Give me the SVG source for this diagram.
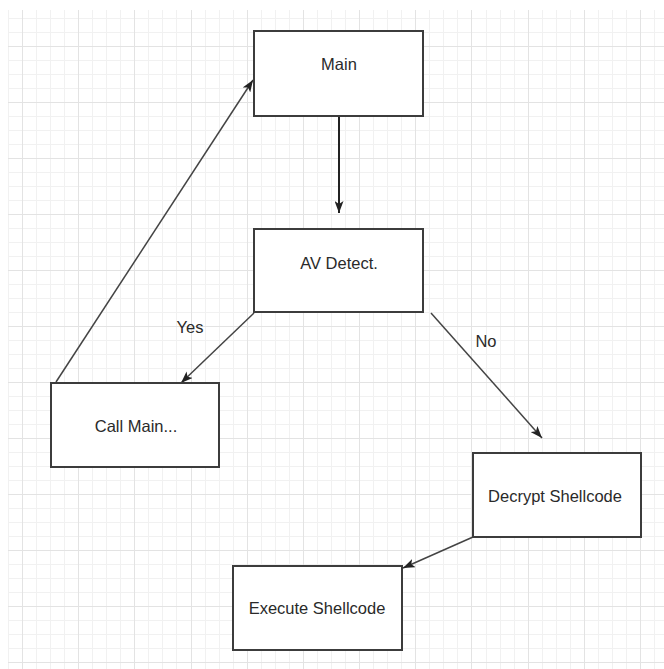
<svg xmlns="http://www.w3.org/2000/svg" width="664" height="669" viewBox="0 0 664 669">
<style>
.minor{stroke:#f1f1f1;stroke-width:1;fill:none}
.major{stroke:#e3e3e3;stroke-width:1;fill:none}
.box{fill:#fff;stroke:#3c3c3c;stroke-width:2}
.t{font-family:"Liberation Sans",Arial,sans-serif;font-size:16.5px;fill:#2a2a2a;text-anchor:middle}
.edge{stroke:#444;stroke-width:1.5;fill:none;marker-end:url(#arr)}
</style>
<defs>
<marker id="arr" markerUnits="userSpaceOnUse" viewBox="0 0 12 9" refX="12" refY="4.5" markerWidth="12" markerHeight="9" orient="auto">
<path d="M0,0 L12,4.5 L0,9 L3,4.5 z" fill="#222"/>
</marker>
</defs>
<rect width="664" height="669" fill="#fff"/>
<g id="grid">
<path class="minor" d="M8.5 10V669M36.5 10V669M50.5 10V669M64.5 10V669M92.5 10V669M106.5 10V669M120.5 10V669M148.5 10V669M162.5 10V669M176.5 10V669M205.5 10V669M219.5 10V669M233.5 10V669M261.5 10V669M275.5 10V669M289.5 10V669M317.5 10V669M331.5 10V669M345.5 10V669M373.5 10V669M387.5 10V669M401.5 10V669M429.5 10V669M443.5 10V669M457.5 10V669M486.5 10V669M500.5 10V669M514.5 10V669M542.5 10V669M556.5 10V669M570.5 10V669M598.5 10V669M612.5 10V669M626.5 10V669M654.5 10V669"/>
<path class="minor" d="M8 18.5H664M8 32.5H664M8 60.5H664M8 74.5H664M8 88.5H664M8 116.5H664M8 130.5H664M8 144.5H664M8 172.5H664M8 186.5H664M8 200.5H664M8 228.5H664M8 242.5H664M8 256.5H664M8 284.5H664M8 298.5H664M8 312.5H664M8 340.5H664M8 354.5H664M8 368.5H664M8 396.5H664M8 410.5H664M8 424.5H664M8 452.5H664M8 466.5H664M8 480.5H664M8 508.5H664M8 522.5H664M8 536.5H664M8 564.5H664M8 578.5H664M8 592.5H664M8 620.5H664M8 634.5H664M8 648.5H664"/>
<path class="major" d="M22.5 10V669M78.5 10V669M134.5 10V669M191.5 10V669M247.5 10V669M303.5 10V669M359.5 10V669M415.5 10V669M471.5 10V669M528.5 10V669M584.5 10V669M640.5 10V669"/>
<path class="major" d="M8 46.5H664M8 102.5H664M8 158.5H664M8 214.5H664M8 270.5H664M8 326.5H664M8 382.5H664M8 438.5H664M8 494.5H664M8 550.5H664M8 606.5H664M8 662.5H664"/>
</g>
<g id="connectors">
<line class="edge" x1="339" y1="116" x2="339" y2="213" style="stroke:#222;stroke-width:2"/>
<line class="edge" x1="56" y1="382" x2="253" y2="80"/>
<line class="edge" x1="254" y1="313" x2="181" y2="383"/>
<line class="edge" x1="431" y1="313" x2="542" y2="438"/>
<line class="edge" x1="473" y1="537" x2="403" y2="568"/>
<text class="t" x="190" y="333">Yes</text>
<text class="t" x="486" y="347">No</text>
</g>
<g id="main"><rect class="box" x="254" y="31" width="169" height="85"/><text class="t" x="339" y="70">Main</text></g>
<g id="av"><rect class="box" x="254" y="229" width="169" height="83"/><text class="t" x="339" y="269">AV Detect.</text></g>
<g id="callmain"><rect class="box" x="51" y="383" width="168" height="84"/><text class="t" x="136" y="432">Call Main...</text></g>
<g id="decrypt"><rect class="box" x="473" y="453" width="168" height="84"/><text class="t" x="555" y="502">Decrypt Shellcode</text></g>
<g id="execute"><rect class="box" x="233" y="566" width="169" height="84"/><text class="t" x="317" y="614">Execute Shellcode</text></g>
</svg>
